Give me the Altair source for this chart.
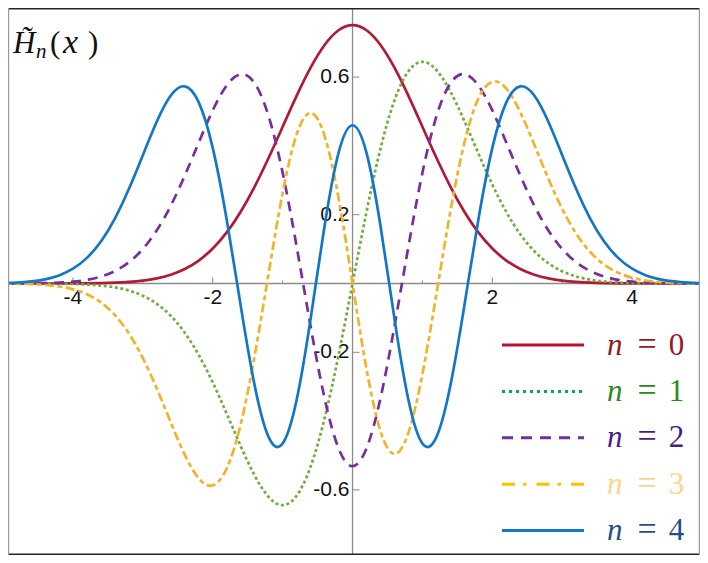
import altair as alt
import pandas as pd

# ---------------- data ----------------
x_vals = [-5.0, -4.8, -4.6, -4.4, -4.2, -4.0, -3.8, -3.6, -3.4, -3.2, -3.0, -2.8, -2.6,
          -2.4, -2.2, -2.0, -1.8, -1.6, -1.4, -1.2, -1.0, -0.8, -0.6, -0.4, -0.2, 0.0,
          0.2, 0.4, 0.6, 0.8, 1.0, 1.2, 1.4, 1.6, 1.8, 2.0, 2.2, 2.4, 2.6, 2.8, 3.0,
          3.2, 3.4, 3.6, 3.8, 4.0, 4.2, 4.4, 4.6, 4.8, 5.0]

h0 = [0.0, 0.0, 0.0, 0.0, 0.0001, 0.0003, 0.0005, 0.0012, 0.0023, 0.0045, 0.0083, 0.0149,
      0.0256, 0.0422, 0.0668, 0.1017, 0.1486, 0.2088, 0.2819, 0.3656, 0.4556, 0.5454,
      0.6274, 0.6934, 0.7363, 0.7511, 0.7363, 0.6934, 0.6274, 0.5454, 0.4556, 0.3656,
      0.2819, 0.2088, 0.1486, 0.1017, 0.0668, 0.0422, 0.0256, 0.0149, 0.0083, 0.0045,
      0.0023, 0.0012, 0.0005, 0.0003, 0.0001, 0.0, 0.0, 0.0, 0.0]

h1 = [0.0, -0.0001, -0.0001, -0.0003, -0.0007, -0.0014, -0.0030, -0.0059, -0.0112, -0.0203,
      -0.0354, -0.0590, -0.0940, -0.1431, -0.2078, -0.2875, -0.3784, -0.4726, -0.5581,
      -0.6205, -0.6443, -0.6171, -0.5324, -0.3922, -0.2082, 0.0, 0.2082, 0.3922, 0.5324,
      0.6171, 0.6443, 0.6205, 0.5581, 0.4726, 0.3784, 0.2875, 0.2078, 0.1431, 0.0940,
      0.0590, 0.0354, 0.0203, 0.0112, 0.0059, 0.0030, 0.0014, 0.0007, 0.0003, 0.0001,
      0.0001, 0.0]

h2 = [0.0001, 0.0002, 0.0006, 0.0013, 0.0027, 0.0055, 0.0108, 0.0203, 0.0363, 0.0618,
      0.1003, 0.1547, 0.2264, 0.3137, 0.4100, 0.5032, 0.5760, 0.6084, 0.5821, 0.4860,
      0.3221, 0.1080, -0.1242, -0.3334, -0.4790, -0.5311, -0.4790, -0.3334, -0.1242,
      0.1080, 0.3221, 0.4860, 0.5821, 0.6084, 0.5760, 0.5032, 0.4100, 0.3137, 0.2264,
      0.1547, 0.1003, 0.0618, 0.0363, 0.0203, 0.0108, 0.0055, 0.0027, 0.0013, 0.0006,
      0.0002, 0.0001]

h3 = [-0.0004, -0.0009, -0.0020, -0.0043, -0.0087, -0.0169, -0.0312, -0.0549, -0.0916,
      -0.1450, -0.2168, -0.3055, -0.4039, -0.4978, -0.5667, -0.5869, -0.5376, -0.4090,
      -0.2096, 0.0304, 0.2630, 0.4333, 0.4955, 0.4291, 0.2482, 0.0, -0.2482, -0.4291,
      -0.4955, -0.4333, -0.2630, -0.0304, 0.2096, 0.4090, 0.5376, 0.5869, 0.5667, 0.4978,
      0.4039, 0.3055, 0.2168, 0.1450, 0.0916, 0.0549, 0.0312, 0.0169, 0.0087, 0.0043,
      0.0020, 0.0009, 0.0004]

h4 = [0.0013, 0.0028, 0.0060, 0.0122, 0.0235, 0.0430, 0.0745, 0.1221, 0.1889, 0.2745,
      0.3730, 0.4709, 0.5464, 0.5731, 0.5266, 0.3943, 0.1854, -0.0642, -0.2966, -0.4467,
      -0.4650, -0.3386, -0.1027, 0.1673, 0.3797, 0.4600, 0.3797, 0.1673, -0.1027, -0.3386,
      -0.4650, -0.4467, -0.2966, -0.0642, 0.1854, 0.3943, 0.5266, 0.5731, 0.5464, 0.4709,
      0.3730, 0.2745, 0.1889, 0.1221, 0.0745, 0.0430, 0.0235, 0.0122, 0.0060, 0.0028,
      0.0013]

series = [h0, h1, h2, h3, h4]
series_labels = ["0", "1", "2", "3", "4"]

x_major = [-4, -2, 2, 4]
x_major_labels = ["-4", "-2", "2", "4"]
x_minor = [-3, -1, 1, 3]
y_major = [0.6, 0.2, -0.2, -0.6]
y_major_labels = ["0.6", "0.2", "-0.2", "-0.6"]

# ---------------- styles ----------------
W, H = 692, 547
curve_colors = ["#B01A36", "#72AE3E", "#7A2E9C", "#F3B327", "#1277C6"]
curve_dash = [None, [3, 2.6], [10, 7], [9, 3.5, 5, 3.5], None]
legend_colors = ["#C0102C", "#00B050", "#7030A0", "#FFC000", "#1078C4"]
legend_dash = [None, [3, 4], [11, 8], [13, 8, 3.5, 10], None]
text_colors = ["#951A1E", "#2A8A1E", "#4A1A8C", "#FFD58A", "#1F4F8F"]

xs = alt.Scale(domain=[-4.929, 4.971], nice=False, zero=False)
ys = alt.Scale(domain=[-0.7892, 0.8009], nice=False, zero=False)

one = pd.DataFrame({"a": [0]})
layers = []

# axes through the origin
layers.append(alt.Chart(one).mark_rule(color="#8a8a8a", strokeWidth=1.3).encode(
    y=alt.Y("a:Q", scale=ys, axis=None), x=alt.value(0), x2=alt.value(W)))
layers.append(alt.Chart(one).mark_rule(color="#8a8a8a", strokeWidth=1.3).encode(
    x=alt.X("a:Q", scale=xs, axis=None), y=alt.value(0), y2=alt.value(H)))

# ticks
dxt = pd.DataFrame({"v": x_major, "z": [0] * len(x_major), "t": x_major_labels})
dxm = pd.DataFrame({"v": x_minor, "z": [0] * len(x_minor)})
dyt = pd.DataFrame({"v": y_major, "z": [0] * len(y_major), "t": y_major_labels})

layers.append(alt.Chart(dxt).mark_rule(color="#8a8a8a", strokeWidth=1, y2Offset=-6).encode(
    x=alt.X("v:Q", scale=xs, axis=None), y=alt.Y("z:Q", scale=ys, axis=None), y2="z:Q"))
layers.append(alt.Chart(dxm).mark_rule(color="#8a8a8a", strokeWidth=1, y2Offset=-3).encode(
    x=alt.X("v:Q", scale=xs, axis=None), y=alt.Y("z:Q", scale=ys, axis=None), y2="z:Q"))
layers.append(alt.Chart(dyt).mark_rule(color="#8a8a8a", strokeWidth=1, x2Offset=7).encode(
    y=alt.Y("v:Q", scale=ys, axis=None), x=alt.X("z:Q", scale=xs, axis=None), x2="z:Q"))

# tick labels
layers.append(alt.Chart(dxt).mark_text(font="Liberation Sans", fontSize=21, color="#111",
                                       align="center", baseline="alphabetic", dy=20).encode(
    x=alt.X("v:Q", scale=xs, axis=None), y=alt.Y("z:Q", scale=ys, axis=None), text="t:N"))
layers.append(alt.Chart(dyt).mark_text(font="Liberation Sans", fontSize=21, color="#111",
                                       align="right", baseline="alphabetic", dx=-3, dy=6).encode(
    y=alt.Y("v:Q", scale=ys, axis=None), x=alt.X("z:Q", scale=xs, axis=None), text="t:N"))

# curves
for vals, col, dash in zip(series, curve_colors, curve_dash):
    df = pd.DataFrame({"x": x_vals, "y": vals})
    kw = dict(color=col, strokeWidth=2.7, interpolate="natural", clip=True, strokeCap="butt")
    if dash is not None:
        kw["strokeDash"] = dash
    layers.append(alt.Chart(df).mark_line(**kw).encode(
        x=alt.X("x:Q", scale=xs, axis=None), y=alt.Y("y:Q", scale=ys, axis=None)))

# legend (layout in pixels)
row0, row_gap = 337.0, 46.4
for i, lab in enumerate(series_labels):
    ry = row0 + i * row_gap
    kw = dict(color=legend_colors[i], strokeWidth=3, strokeCap="butt")
    if legend_dash[i] is not None:
        kw["strokeDash"] = legend_dash[i]
    layers.append(alt.Chart(one).mark_rule(**kw).encode(
        x=alt.value(494), x2=alt.value(576), y=alt.value(ry)))
    layers.append(alt.Chart(one).mark_text(font="Liberation Serif", fontStyle="italic",
                                           fontSize=31, color=text_colors[i], align="left",
                                           baseline="alphabetic").encode(
        x=alt.value(599), y=alt.value(ry + 9.5), text=alt.value("n")))
    layers.append(alt.Chart(one).mark_text(font="Liberation Serif", fontSize=34,
                                           color=text_colors[i], align="center",
                                           baseline="alphabetic").encode(
        x=alt.value(639), y=alt.value(ry + 9.5), text=alt.value("=")))
    layers.append(alt.Chart(one).mark_text(font="Liberation Serif", fontSize=31,
                                           color=text_colors[i], align="center",
                                           baseline="alphabetic").encode(
        x=alt.value(668.5), y=alt.value(ry + 9.5), text=alt.value(lab)))

# title  H~_n(x)
title_parts = [("H\u0303", 5, 45, 31, "italic"), ("n", 28, 50, 21, "italic"),
               ("(", 42, 45, 31, "normal"), ("x", 55, 45, 34, "italic"),
               (")", 80, 45, 31, "normal")]
for txt, tx, ty, fs, st in title_parts:
    layers.append(alt.Chart(one).mark_text(font="Liberation Serif", fontStyle=st, fontSize=fs,
                                           color="#111", align="left",
                                           baseline="alphabetic").encode(
        x=alt.value(tx), y=alt.value(ty), text=alt.value(txt)))

# frame
layers.append(alt.Chart(one).mark_rule(color="#222", strokeWidth=1.5).encode(
    x=alt.value(0), x2=alt.value(W), y=alt.value(0.75)))
layers.append(alt.Chart(one).mark_rule(color="#222", strokeWidth=1.5).encode(
    x=alt.value(0), x2=alt.value(W), y=alt.value(H - 0.75)))
layers.append(alt.Chart(one).mark_rule(color="#999", strokeWidth=1.2).encode(
    y=alt.value(0), y2=alt.value(H), x=alt.value(0.6)))
layers.append(alt.Chart(one).mark_rule(color="#999", strokeWidth=1.2).encode(
    y=alt.value(0), y2=alt.value(H), x=alt.value(W - 0.6)))

chart = alt.layer(*layers).properties(
    width=W, height=H, padding=0,
    autosize=alt.AutoSizeParams(type="none"),
).configure_view(stroke=None)

chart.save("out.html", embed_options={"renderer": "svg", "actions": False})
